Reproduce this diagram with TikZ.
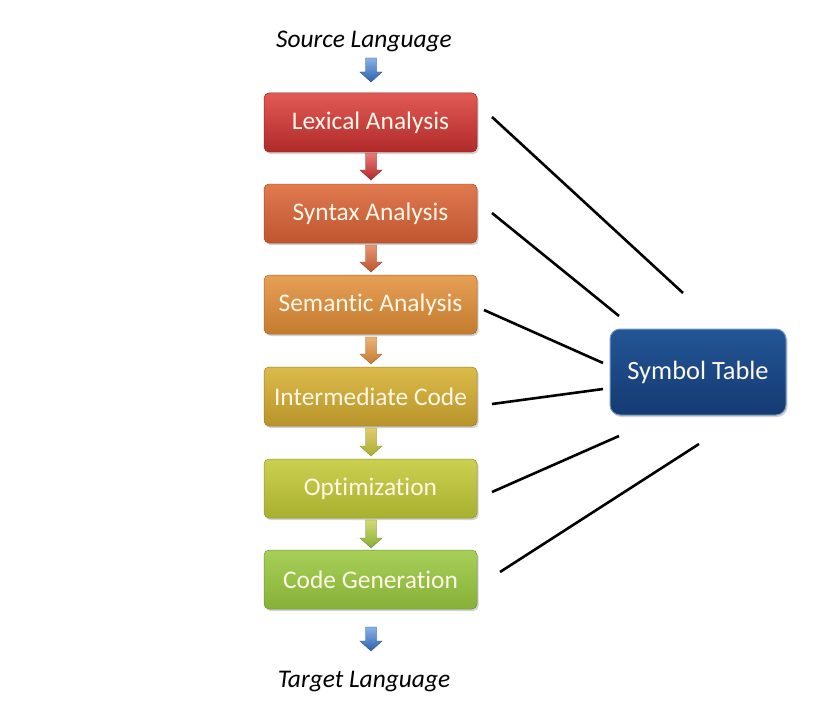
\documentclass[tikz,border=0pt]{standalone}
\usepackage{fontspec}
\setmainfont{Carlito}[Ligatures=NoCommon]
\usetikzlibrary{shadows}
\definecolor{lexT}{HTML}{E25A55}\definecolor{lexB}{HTML}{B02A2A}
\definecolor{synT}{HTML}{E07A50}\definecolor{synB}{HTML}{BE5530}
\definecolor{semT}{HTML}{E6A055}\definecolor{semB}{HTML}{C47B30}
\definecolor{intT}{HTML}{DCBB4A}\definecolor{intB}{HTML}{B8942A}
\definecolor{optT}{HTML}{CCD050}\definecolor{optB}{HTML}{A8B030}
\definecolor{genT}{HTML}{A8D058}\definecolor{genB}{HTML}{86B038}
\definecolor{symT}{HTML}{235696}\definecolor{symB}{HTML}{143A72}
\definecolor{arrT}{HTML}{6A9FE0}\definecolor{arrB}{HTML}{2E62B0}
\definecolor{txtc}{HTML}{FFF8E8}
\newcommand\stagearrow[4]{%
  \path[top color=#3!80!white,bottom color=#4,draw=#4!80!black,line width=0.4pt]
    (365.5,#1) -- (376.5,#1) -- (376.5,#2-10) -- (382,#2-10) -- (371,#2)
    -- (360,#2-10) -- (365.5,#2-10) -- cycle;}
\begin{document}
\begin{tikzpicture}[x=1bp,y=-1bp,
  stagebox/.style={rounded corners=5bp,minimum width=213bp,minimum height=59bp,
    text=txtc,font=\fontsize{25.5}{30}\selectfont,
    drop shadow={shadow xshift=1.5bp,shadow yshift=-2bp,opacity=0.35},
    draw=#1B!85!black,line width=0.5pt,top color=#1T,bottom color=#1B},
  symbox/.style={rounded corners=10bp,minimum width=176bp,minimum height=86bp,
    text=txtc,font=\fontsize{26.5}{31}\selectfont,
    drop shadow={shadow xshift=1.5bp,shadow yshift=-2bp,opacity=0.35},
    draw=symT!60!white,line width=1pt,top color=symT,bottom color=symB},
  lang/.style={font=\itshape\fontsize{25.5}{30}\selectfont,text=black},
  link/.style={line width=2.6pt,black}]
\useasboundingbox (0,0) rectangle (814,716);
\fill[white] (0,0) rectangle (814,716);
\node[lang] (src) at (364,41) {Source Language};
\node[lang] (tgt) at (364,682) {Target Language};
\node[stagebox=lex] (lex) at (370.5,122.5) {Lexical Analysis};
\node[stagebox=syn] (syn) at (370.5,213.5) {Syntax Analysis};
\node[stagebox=sem] (sem) at (370.5,304.5) {Semantic Analysis};
\node[stagebox=int] (int) at (370.5,396.5) {Intermediate Code};
\node[stagebox=opt] (opt) at (370.5,488.5) {Optimization};
\node[stagebox=gen] (gen) at (370.5,579.5) {Code Generation};
\node[symbox] (sym) at (698,372) {Symbol Table};
\stagearrow{58}{82}{arrT}{arrB}
\stagearrow{153}{180}{lexT}{lexB}
\stagearrow{245}{272}{synT}{synB}
\stagearrow{337}{364}{semT}{semB}
\stagearrow{428}{456}{intT}{optB}
\stagearrow{520}{548}{optT}{genB}
\stagearrow{627}{651}{arrT}{arrB}
\coordinate (l1a) at (492,117); \coordinate (l1b) at (683,293);
\coordinate (l2a) at (492,213); \coordinate (l2b) at (619,316);
\coordinate (l3a) at (484,310); \coordinate (l3b) at (603,363);
\coordinate (l4a) at (492,404); \coordinate (l4b) at (603,389);
\coordinate (l5a) at (492,492); \coordinate (l5b) at (619,436);
\coordinate (l6a) at (500,572); \coordinate (l6b) at (699,444);
\draw[link] (l1a) -- (l1b);
\draw[link] (l2a) -- (l2b);
\draw[link] (l3a) -- (l3b);
\draw[link] (l4a) -- (l4b);
\draw[link] (l5a) -- (l5b);
\draw[link] (l6a) -- (l6b);
\end{tikzpicture}
\end{document}
